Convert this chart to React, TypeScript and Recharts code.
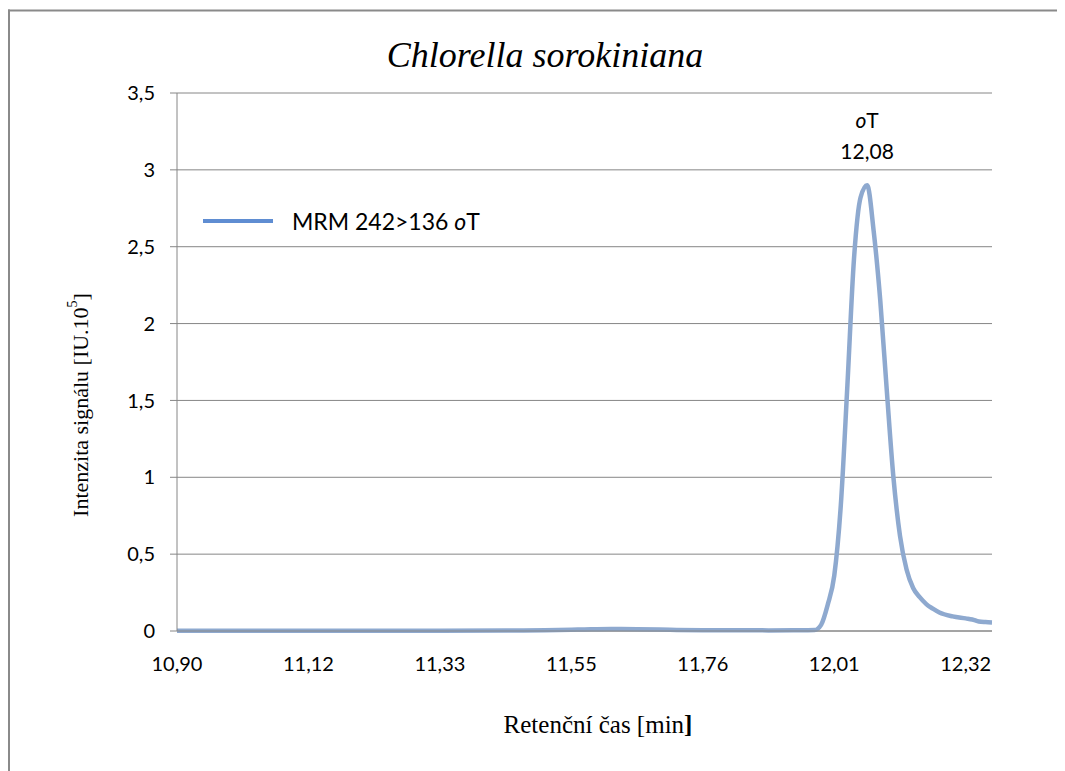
import React from "react";
import {
  LineChart,
  Line,
  XAxis,
  YAxis,
  CartesianGrid,
  Legend,
  LabelList,
} from "recharts";

// scan position along the category axis (20 scans between labelled ticks)
const scans = [
  0, 20, 40, 52, 56, 60, 62, 66, 70, 75, 80, 90, 96, 97, 98, 99, 100, 101, 102,
  103, 104, 105, 106, 107, 108, 109, 110, 111, 112, 113, 114, 115, 116, 118,
  120, 121, 122, 123, 124,
];
// signal intensity [IU.10^5]
const intensity = [
  0.002, 0.002, 0.002, 0.003, 0.005, 0.008, 0.01, 0.013, 0.012, 0.008, 0.005,
  0.004, 0.005, 0.006, 0.04, 0.17, 0.36, 0.82, 1.6, 2.42, 2.82, 2.9, 2.6, 2.15,
  1.56, 1.0, 0.62, 0.4, 0.28, 0.22, 0.175, 0.145, 0.12, 0.095, 0.082, 0.075,
  0.062, 0.058, 0.056,
];
const tickScans = [0, 20, 40, 60, 80, 100, 120];
const tickLabels = ["10,90", "11,12", "11,33", "11,55", "11,76", "12,01", "12,32"];
const yTicks = [0, 0.5, 1, 1.5, 2, 2.5, 3, 3.5];
const peakScan = 105;
const peakLabel = "12,08";

const data = scans.map((s, i) => ({ scan: s, intensity: intensity[i] }));

const W = 1057;
const H = 763;
const SANS = "Lato, 'Noto Sans', sans-serif";
const SERIF = "'Liberation Serif', 'Times New Roman', serif";
const GRID = "#868686";

const PeakLabel = (props: any) => {
  const { x, y, index } = props;
  if (data[index]?.scan !== peakScan) return null;
  return (
    <g fontFamily={SANS} fontSize={21} fill="#000">
      <text x={x} y={y - 57} textAnchor="middle">
        <tspan fontStyle="italic">o</tspan>T
      </text>
      <text x={x} y={y - 26} textAnchor="middle">
        {peakLabel}
      </text>
    </g>
  );
};

const LegendContent = () => (
  <div style={{ display: "flex", alignItems: "center", height: 26 }}>
    <span
      style={{ display: "inline-block", width: 70, height: 4, background: "#5F8DD2" }}
    />
    <span style={{ marginLeft: 19, fontFamily: SANS, fontSize: 23, color: "#000" }}>
      MRM 242&gt;136 <i>o</i>T
    </span>
  </div>
);

export default function App() {
  return (
    <div style={{ position: "relative", width: W, height: H }}>
      <LineChart
        width={W}
        height={H}
        data={data}
        margin={{ top: 85, right: 73, bottom: 100, left: 89 }}
      >
        <CartesianGrid vertical={false} stroke={GRID} />
        <XAxis
          dataKey="scan"
          type="number"
          domain={[0, 124]}
          ticks={tickScans}
          interval={0}
          tickFormatter={(v: number) => tickLabels[tickScans.indexOf(v)]}
          tickLine={false}
          tickSize={0}
          tickMargin={26}
          height={40}
          axisLine={{ stroke: GRID }}
          tick={{ fill: "#000", fontSize: 20, fontFamily: SANS }}
        />
        <YAxis
          domain={[0, 3.5]}
          ticks={yTicks}
          interval={0}
          width={80}
          tickSize={7}
          tickMargin={15}
          tickFormatter={(v: number) => String(v).replace(".", ",")}
          axisLine={{ stroke: GRID }}
          tickLine={{ stroke: GRID }}
          tick={{ fill: "#000", fontSize: 20, fontFamily: SANS }}
        />
        <Legend
          layout="horizontal"
          align="center"
          verticalAlign="middle"
          wrapperStyle={{ left: 195, top: 200, width: 400 }}
          content={<LegendContent />}
        />
        <Line
          type="monotone"
          dataKey="intensity"
          name="MRM 242>136 oT"
          stroke="#8EA9CF"
          strokeWidth={4.5}
          dot={false}
          isAnimationActive={false}
        >
          <LabelList dataKey="intensity" content={<PeakLabel />} />
        </Line>
      </LineChart>
      <svg
        width={W}
        height={H}
        style={{ position: "absolute", left: 0, top: 0, pointerEvents: "none" }}
      >
        <line x1={0} y1={2.5} x2={W} y2={2.5} stroke="#8a8a8a" strokeWidth={2} />
        <line x1={1} y1={1.5} x2={1} y2={H} stroke="#8a8a8a" strokeWidth={2} />
        <text
          x={537}
          y={59}
          textAnchor="middle"
          fontFamily={SERIF}
          fontStyle="italic"
          fontSize={36}
          fill="#000"
        >
          Chlorella sorokiniana
        </text>
        <text
          transform="translate(72,397) rotate(-90)"
          textAnchor="middle"
          dominantBaseline="central"
          fontFamily={SERIF}
          fontSize={22}
          fill="#000"
        >
          Intenzita signálu [IU.10<tspan dy={-8} fontSize={14}>5</tspan>
          <tspan dy={8}>]</tspan>
        </text>
        <text
          x={590}
          y={725}
          textAnchor="middle"
          fontFamily={SERIF}
          fontSize={25}
          fill="#000"
        >
          Retenční čas [min<tspan fontWeight="bold">]</tspan>
        </text>
      </svg>
    </div>
  );
}
